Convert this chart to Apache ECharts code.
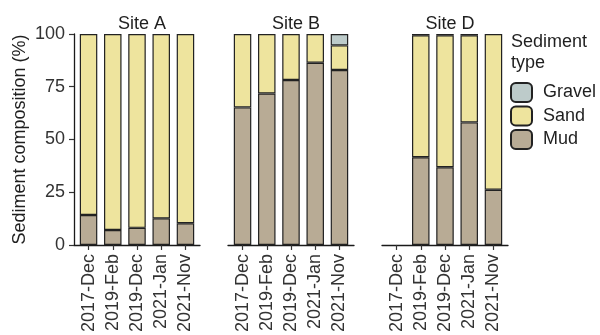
<!DOCTYPE html>
<html>
<head>
<meta charset="utf-8">
<script src="https://cdn.jsdelivr.net/npm/echarts@6/dist/echarts.min.js"></script>
<style>
  html, body { margin: 0; padding: 0; background: #fff; }
  #chart { width: 600px; height: 335px; }
</style>
</head>
<body>
<div id="chart"></div>
<script>
// Sampling dates shared by every site panel
const categories = ['2017-Dec', '2019-Feb', '2019-Dec', '2021-Jan', '2021-Nov'];
const sites = ['Site A', 'Site B', 'Site D'];
const yTicks = [0, 25, 50, 75, 100];

// Sediment composition (%) per site, one value per sampling date
const mudA = [14.2, 7.1, 8.1, 12.6, 10.3];
const sandA = [85.8, 92.9, 91.9, 87.4, 89.7];
const gravelA = [null, null, null, null, null];

const mudB = [65.2, 71.8, 78.2, 86.4, 82.9];
const sandB = [34.8, 28.2, 21.8, 13.6, 11.7];
const gravelB = [null, null, null, null, 5.4];

const mudD = [null, 41.6, 36.8, 58.1, 26.2];
const sandD = [null, 57.8, 62.6, 41.3, 73.8];
const gravelD = [null, 0.6, 0.6, 0.6, null];

const siteData = [
  { mud: mudA, sand: sandA, gravel: gravelA },
  { mud: mudB, sand: sandB, gravel: gravelB },
  { mud: mudD, sand: sandD, gravel: gravelD }
];

const colors = { Mud: '#b8ab95', Sand: '#eee49e', Gravel: '#bdcbca' };
const FONT = 'Liberation Sans, Arial, Helvetica, sans-serif';
const FS = 18;
const TEXT = '#1f1f1f';
const LINE = '#1a1a1a';

const panelLeft = [74, 228, 382];
const panelWidth = 126;
const gridTop = 34, gridBottom = 245;
const idx = categories.map((_, i) => i);

const grids = [], xAxes = [], yAxes = [], series = [], titles = [];

panelLeft.forEach((left, g) => {
  grids.push({ left: left, top: gridTop, width: panelWidth, height: gridBottom - gridTop });
  titles.push({
    text: sites[g], left: left + panelWidth / 2, top: 10, textAlign: 'center',
    textStyle: { fontFamily: FONT, fontSize: FS, fontWeight: 'normal', color: TEXT }
  });
  // date positions on a numeric axis, padded 0.6 of a step at both ends
  xAxes.push({
    type: 'value', gridIndex: g, min: -0.6, max: 4.6,
    splitLine: { show: false },
    axisLine: { show: true, onZero: false, lineStyle: { color: LINE, width: 1.3 } },
    axisTick: { show: true, customValues: idx, length: 5, lineStyle: { color: '#333', width: 1.2 } },
    axisLabel: {
      customValues: idx, rotate: 90, margin: 9,
      formatter: v => categories[Math.round(v)],
      fontFamily: FONT, fontSize: FS, color: '#333'
    }
  });
  const first = g === 0;
  yAxes.push({
    type: 'value', gridIndex: g, min: 0, max: 100, interval: 25,
    name: first ? 'Sediment composition (%)' : '',
    nameLocation: 'middle', nameGap: 45,
    nameTextStyle: { fontFamily: FONT, fontSize: FS, color: TEXT },
    splitLine: { show: false },
    axisLine: { show: first, onZero: false, lineStyle: { color: LINE, width: 1.3 } },
    axisTick: { show: first, length: 5, lineStyle: { color: '#333', width: 1.2 } },
    axisLabel: {
      show: first, margin: 9,
      fontFamily: FONT, fontSize: FS, color: '#333'
    }
  });
  const d = siteData[g];
  [['Mud', d.mud], ['Sand', d.sand], ['Gravel', d.gravel]].forEach(([name, vals]) => {
    series.push({
      type: 'bar', name: name, xAxisIndex: g, yAxisIndex: g,
      stack: 'site' + g, barWidth: 17.5,
      // value first so the percentage column is the one that stacks
      encode: { x: 1, y: 0 },
      itemStyle: { color: colors[name], borderColor: '#222', borderWidth: 1.2 },
      data: vals.map((v, i) => [v, i])
    });
  });
});

const chart = echarts.init(document.getElementById('chart'), null, { renderer: 'canvas' });
chart.setOption({
  animation: false,
  title: titles,
  grid: grids,
  xAxis: xAxes,
  yAxis: yAxes,
  legend: {
    data: ['Gravel', 'Sand', 'Mud'],
    orient: 'vertical', left: 510, top: 82, padding: 0,
    itemWidth: 21, itemHeight: 19, itemGap: 2.5,
    selectedMode: false,
    textStyle: { fontFamily: FONT, fontSize: FS, color: TEXT, padding: [0, 0, 0, 6] }
  },
  graphic: [{
    type: 'text', left: 511, top: 32,
    style: { text: 'Sediment\ntype', font: FS + 'px ' + FONT, fill: TEXT, lineHeight: 21 }
  }],
  series: series
});
</script>
</body>
</html>
